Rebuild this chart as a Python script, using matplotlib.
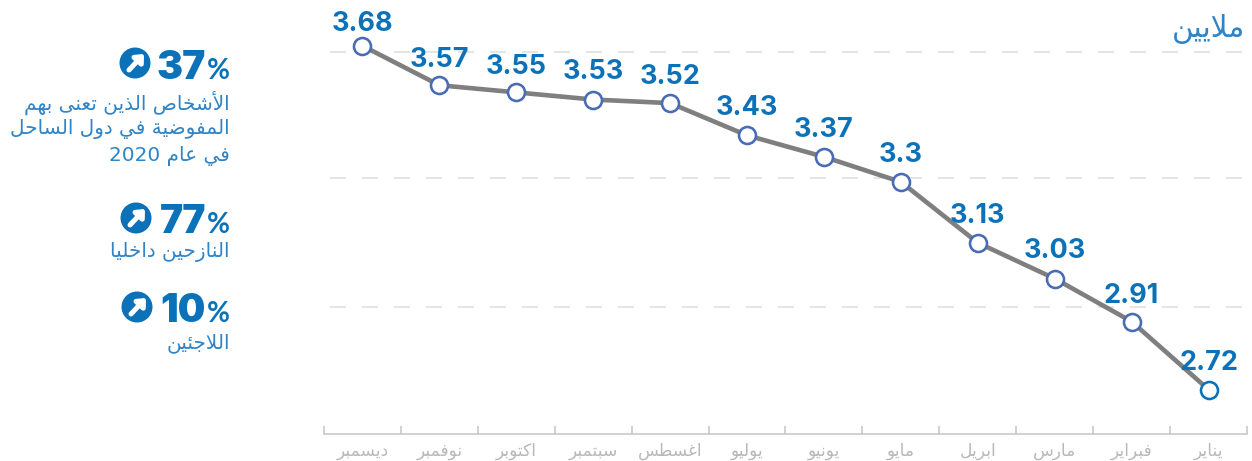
import matplotlib
matplotlib.use("Agg")
import matplotlib.pyplot as plt
from matplotlib.patches import Circle

plt.rcParams['font.family'] = ['Inter', 'DejaVu Sans']

months = ["ديسمبر", "نوفمبر", "اكتوبر", "سبتمبر", "اغسطس", "يوليو",
          "يونيو", "مايو", "ابريل", "مارس", "فبراير", "يناير"]
values = [3.68, 3.57, 3.55, 3.53, 3.52, 3.43, 3.37, 3.30, 3.13, 3.03, 2.91, 2.72]
value_labels = ["3.68", "3.57", "3.55", "3.53", "3.52", "3.43", "3.37", "3.3",
                "3.13", "3.03", "2.91", "2.72"]
grid_levels = [2.95, 3.31, 3.663]
unit_label = "ملايين"
stat_numbers = ["37", "77", "10"]
stat_captions = [["الأشخاص الذين تعنى بهم", "المفوضية في دول الساحل", "في عام 2020"],
                 ["النازحين داخليا"],
                 ["اللاجئين"]]
label_gaps = [9, 12, 12, 15, 13, 14, 14, 14, 14, 15, 13, 14]

BLUE = "#0b72b9"
TEXT_BLUE = "#2f84c6"
W, H = 1252, 461

# --- minimal Arabic shaping: (isolated, final, initial, medial) ---
def _four(c, start):
    return (chr(start), chr(start + 1), chr(start + 2), chr(start + 3))
def _two(c, start):
    return (chr(start), chr(start + 1), None, None)
FORMS = {}
for ch, st in {"ئ": 0xFE89, "ب": 0xFE8F, "ت": 0xFE95, "ث": 0xFE99, "ج": 0xFE9D, "ح": 0xFEA1,
               "خ": 0xFEA5, "س": 0xFEB1, "ش": 0xFEB5, "ص": 0xFEB9, "ض": 0xFEBD, "ط": 0xFEC1,
               "ظ": 0xFEC5, "ع": 0xFEC9, "غ": 0xFECD, "ف": 0xFED1, "ق": 0xFED5, "ك": 0xFED9,
               "ل": 0xFEDD, "م": 0xFEE1, "ن": 0xFEE5, "ه": 0xFEE9, "ي": 0xFEF1}.items():
    FORMS[ch] = _four(ch, st)
for ch, st in {"آ": 0xFE81, "أ": 0xFE83, "ؤ": 0xFE85, "إ": 0xFE87, "ا": 0xFE8D, "ة": 0xFE93,
               "د": 0xFEA9, "ذ": 0xFEAB, "ر": 0xFEAD, "ز": 0xFEAF, "و": 0xFEED, "ى": 0xFEEF}.items():
    FORMS[ch] = _two(ch, st)
LAM_ALEF = {"ا": (0xFEFB, 0xFEFC), "أ": (0xFEF7, 0xFEF8), "إ": (0xFEF9, 0xFEFA), "آ": (0xFEF5, 0xFEF6)}

def shape_word(word):
    out, i, joins_prev = [], 0, False
    while i < len(word):
        c = word[i]
        if c == "ل" and i + 1 < len(word) and word[i + 1] in LAM_ALEF:
            iso, fin = LAM_ALEF[word[i + 1]]
            out.append(chr(fin if joins_prev else iso))
            joins_prev = False
            i += 2
            continue
        f = FORMS[c]
        can_next = f[2] is not None and i + 1 < len(word)
        if joins_prev and can_next:
            g = f[3]
        elif joins_prev:
            g = f[1]
        elif can_next:
            g = f[2]
        else:
            g = f[0]
        out.append(g)
        joins_prev = can_next
        i += 1
    return "".join(reversed(out))

def ar(text):
    return " ".join((w if w.isdigit() else shape_word(w)) for w in reversed(text.split(" ")))

px = 72 / 100
fig = plt.figure(figsize=(W / 100, H / 100), dpi=100, facecolor="white")

left, right, bottom, top = 324, 1247, 434, 0
ax = fig.add_axes([left / W, 1 - bottom / H, (right - left) / W, (bottom - top) / H])
ax.set_xlim(-0.5, 11.5)
ax.set_ylim(2.596, 3.808)
ax.patch.set_alpha(0)
for s in ("top", "left", "right"):
    ax.spines[s].set_visible(False)
ax.spines["bottom"].set_color("#c4c4c4")
ax.spines["bottom"].set_linewidth(1.5 * px)

x = list(range(len(values)))
for lv in grid_levels:
    ax.plot([-0.42, 11.5], [lv, lv], color="#dcdcdc", lw=1.5 * px,
            dashes=(16 / 1.5, 16 / 1.5), zorder=1)
ax.plot(x, values, color="#7f7f7f", lw=4.6 * px, zorder=2, solid_capstyle="round")
ax.plot(x[:-1], values[:-1], "o", ms=17 * px, mfc="white", mec="#4a6cb5", mew=2.6 * px, zorder=3)
ax.plot(x[-1:], values[-1:], "o", ms=17 * px, mfc="white", mec=BLUE, mew=2.6 * px, zorder=3)

for xi, v, t, gap in zip(x, values, value_labels, label_gaps):
    ax.annotate(t, (xi, v), xytext=(0, gap * px), textcoords="offset points", ha="center", va="bottom",
                color=BLUE, fontsize=27 * px, fontweight="bold", family="Inter")

ax.set_yticks([])
ax.set_xticks(x)
ax.set_xticklabels([ar(m) for m in months], family="DejaVu Sans", fontsize=17 * px, color="#b8b8b8")
ax.tick_params(axis="x", which="major", length=0, pad=8 * px)
ax.set_xticks([i - 0.5 for i in range(len(values) + 1)], minor=True)
ax.tick_params(axis="x", which="minor", direction="in", length=8 * px, width=1.5 * px, color="#c4c4c4")

ov = fig.add_axes([0, 0, 1, 1])
ov.set_xlim(0, W)
ov.set_ylim(H, 0)
ov.axis("off")
ov.patch.set_alpha(0)

ov.text(1245, 29, ar(unit_label), ha="right", va="center", color=TEXT_BLUE,
        family="DejaVu Sans", fontsize=29.5 * px)

blocks = [(79, 135, 63, [103, 129, 156]), (233, 136, 218, [252]), (322, 137, 307, [343])]
for num, caps, (base, ix, iy, ys) in zip(stat_numbers, stat_captions, blocks):
    ov.text(230, base, "%", ha="right", va="baseline", color=BLUE, family="Lato",
            fontsize=28 * px, fontweight="bold")
    ov.text(206, base, num, ha="right", va="baseline", color=BLUE, family="Inter",
            fontsize=39 * px, fontweight="black")
    ov.add_patch(Circle((ix, iy), 15.5, fc=BLUE, ec="none"))
    ov.annotate("", xy=(ix + 9, iy - 9), xytext=(ix - 6, iy + 7),
                arrowprops=dict(arrowstyle="-|>,head_width=0.36,head_length=0.4",
                                color="white", lw=5 * px, shrinkA=0, shrinkB=0))
    for cap, y in zip(caps, ys):
        ov.text(230, y, ar(cap), ha="right", va="center", color=TEXT_BLUE,
                family="DejaVu Sans", fontsize=20 * px)

fig.savefig("out.png", dpi=100, facecolor="white")
